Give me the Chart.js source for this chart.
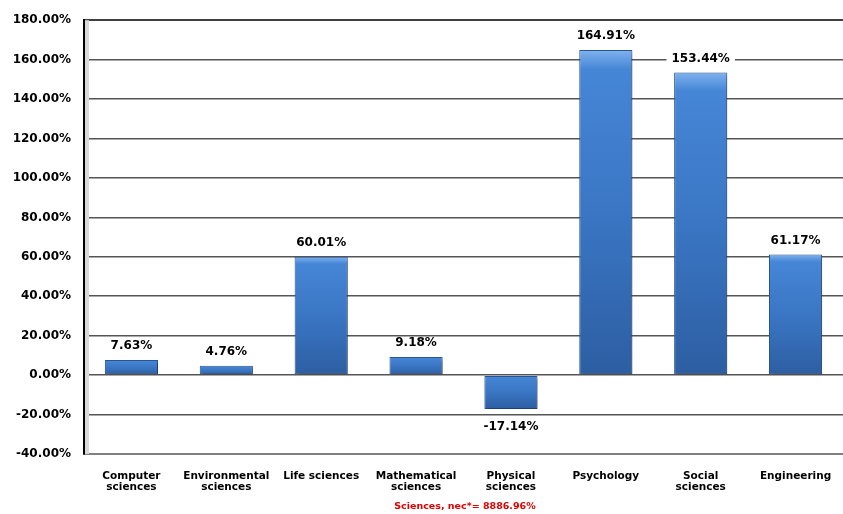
<!DOCTYPE html>
<html>
<head>
<meta charset="utf-8">
<script src="https://cdn.jsdelivr.net/npm/chart.js@4"></script>
<style>
  html, body { margin:0; padding:0; background:#fff; }
  #wrap { width:843px; height:514px; position:relative; }
</style>
</head>
<body>
<div id="wrap"><canvas id="chart"></canvas></div>
<script>
// Campos y variación porcentual
const campos = [
  ['Computer', 'sciences'],
  ['Environmental', 'sciences'],
  'Life sciences',
  ['Mathematical', 'sciences'],
  ['Physical', 'sciences'],
  'Psychology',
  ['Social', 'sciences'],
  'Engineering'
];
const variacion = [7.63, 4.76, 60.01, 9.18, -17.14, 164.91, 153.44, 61.17];
const etiquetas = ['7.63%', '4.76%', '60.01%', '9.18%', '-17.14%', '164.91%', '153.44%', '61.17%'];
const nota = 'Sciences, nec*= 8886.96%';

const yMin = -40, yMax = 180, yPaso = 20;

const fuente = '"DejaVu Sans", Verdana, sans-serif';
const fmt = v => v.toFixed(2) + '%';

// degradado vertical por barra
function relleno(ctx) {
  const chart = ctx.chart;
  if (!chart.chartArea || ctx.type !== 'data') return '#3f7fcf';
  const y = chart.scales.y;
  const v = ctx.raw;
  const a = y.getPixelForValue(Math.max(v, 0));
  const b = y.getPixelForValue(Math.min(v, 0));
  const g = chart.ctx.createLinearGradient(0, a, 0, b + 0.01);
  g.addColorStop(0, '#7fb2ee');
  g.addColorStop(0.06, '#4686d6');
  g.addColorStop(0.5, '#3a76c4');
  g.addColorStop(1, '#2d5ea2');
  return g;
}

// pared gris a la derecha del eje y
const pared = {
  id: 'pared',
  beforeDatasetsDraw(chart) {
    const { ctx, chartArea: ca } = chart;
    ctx.save();
    ctx.fillStyle = '#d9d9d9';
    ctx.fillRect(ca.left + 1, ca.top, 4, ca.bottom - ca.top);
    ctx.restore();
  }
};

// sombra de las barras
const sombra = {
  id: 'sombra',
  beforeDatasetDraw(chart) {
    const ctx = chart.ctx;
    ctx.save();
    ctx.shadowColor = 'rgba(0,0,0,0.35)';
    ctx.shadowBlur = 3;
    ctx.shadowOffsetX = 2;
    ctx.shadowOffsetY = 2;
  },
  afterDatasetDraw(chart) {
    chart.ctx.restore();
  }
};

// valores sobre las barras + nota al pie
const valores = {
  id: 'valores',
  afterDatasetsDraw(chart) {
    const { ctx } = chart;
    const meta = chart.getDatasetMeta(0);
    ctx.save();
    ctx.font = 'bold 12px ' + fuente;
    ctx.textAlign = 'center';
    meta.data.forEach((bar, i) => {
      const v = variacion[i];
      const txt = etiquetas[i];
      const x = bar.x;
      let y;
      if (v >= 0) { ctx.textBaseline = 'bottom'; y = bar.y - 8; }
      else { ctx.textBaseline = 'top'; y = bar.y + 12; }
      if (i === 6) {
        const w = ctx.measureText(txt).width + 10;
        ctx.fillStyle = '#fff';
        ctx.fillRect(x - w / 2, y - 14, w, 16);
      }
      ctx.fillStyle = '#000';
      ctx.fillText(txt, x, y);
    });
    ctx.font = 'bold 9.5px ' + fuente;
    ctx.fillStyle = '#e00000';
    ctx.textBaseline = 'middle';
    ctx.fillText(nota, 465, 507);
    ctx.restore();
  }
};

new Chart(document.getElementById('chart'), {
  type: 'bar',
  data: {
    labels: campos,
    datasets: [{
      data: variacion,
      backgroundColor: relleno,
      borderColor: '#2a5590',
      borderWidth: 1,
      borderSkipped: false,
      barPercentage: 0.56,
      categoryPercentage: 1
    }]
  },
  options: {
    responsive: true,
    maintainAspectRatio: false,
    animation: false,
    layout: { padding: { top: 20, right: 0, left: 0, bottom: 0 } },
    plugins: {
      legend: { display: false },
      tooltip: { enabled: false }
    },
    scales: {
      x: {
        grid: { display: false },
        border: { color: '#808080', width: 2 },
        ticks: {
          color: '#000',
          padding: 9,
          maxRotation: 0,
          autoSkip: false,
          font: { family: fuente, size: 10.5, weight: 'bold', lineHeight: 1.05 }
        },
        afterFit: s => { s.height = 60; }
      },
      y: {
        min: yMin,
        max: yMax,
        ticks: {
          stepSize: yPaso,
          color: '#000',
          padding: 13,
          callback: v => fmt(v),
          font: { family: fuente, size: 12, weight: 'bold' }
        },
        grid: {
          drawTicks: false,
          color: c => (c.tick && c.tick.value === yMax) ? '#404040' : '#555',
          lineWidth: c => (c.tick && c.tick.value === yMax) ? 2 : 1.6
        },
        border: { color: '#000', width: 2 },
        afterFit: s => { s.width = 84; }
      }
    }
  },
  plugins: [pared, sombra, valores]
});
</script>
</body>
</html>
